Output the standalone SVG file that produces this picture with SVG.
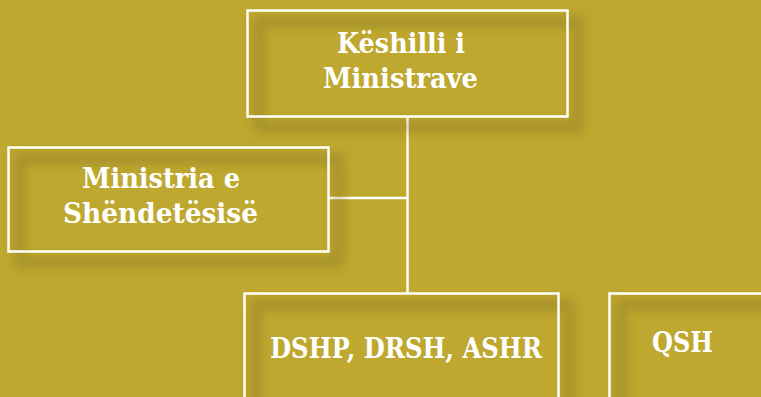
<svg xmlns="http://www.w3.org/2000/svg" width="761" height="397" viewBox="0 0 761 397">
<defs>
<filter id="sh" x="-20%" y="-30%" width="140%" height="160%">
<feGaussianBlur stdDeviation="5"/>
</filter>
<style>
.bg{fill:#BEA82F}
.shadow{fill:none;stroke:#7a6515;stroke-opacity:0.3;stroke-width:12;filter:url(#sh)}
.box{fill:none;stroke:#ffffff;stroke-width:2.5}
.lbl{fill:#ffffff;font-family:"DejaVu Serif","Liberation Serif",serif;font-weight:bold;font-size:28px;text-anchor:middle}
.conn{stroke:#ffffff;stroke-width:2.5;fill:none}
</style>
</defs>
<rect class="bg" x="0" y="0" width="761" height="397"/>
<g id="connectors">
<line class="conn" x1="407.5" y1="117" x2="407.5" y2="293"/>
<line class="conn" x1="329" y1="198" x2="407.5" y2="198"/>
</g>
<g id="keshilli">
<rect class="shadow" x="259" y="22" width="319" height="105"/>
<rect class="box" x="247.5" y="10.5" width="320" height="106"/>
<text class="lbl" x="401" y="53" textLength="128" lengthAdjust="spacingAndGlyphs">Këshilli i</text>
<text class="lbl" x="400.5" y="88" textLength="155" lengthAdjust="spacingAndGlyphs">Ministrave</text>
</g>
<g id="ministria">
<rect class="shadow" x="20" y="159" width="319" height="103"/>
<rect class="box" x="8.5" y="147.5" width="320" height="104"/>
<text class="lbl" x="161" y="188" textLength="158" lengthAdjust="spacingAndGlyphs">Ministria e</text>
<text class="lbl" x="160.5" y="223" textLength="195" lengthAdjust="spacingAndGlyphs">Shëndetësisë</text>
</g>
<g id="dshp">
<rect class="shadow" x="256" y="305" width="313" height="120"/>
<rect class="box" x="244.5" y="293.5" width="314" height="120"/>
<text class="lbl" x="406" y="358" textLength="272" lengthAdjust="spacingAndGlyphs">DSHP, DRSH, ASHR</text>
</g>
<g id="qsh">
<rect class="shadow" x="621" y="305" width="200" height="120"/>
<rect class="box" x="609.5" y="293.5" width="200" height="120"/>
<text class="lbl" x="682.5" y="352" textLength="61" lengthAdjust="spacingAndGlyphs">QSH</text>
</g>
</svg>
